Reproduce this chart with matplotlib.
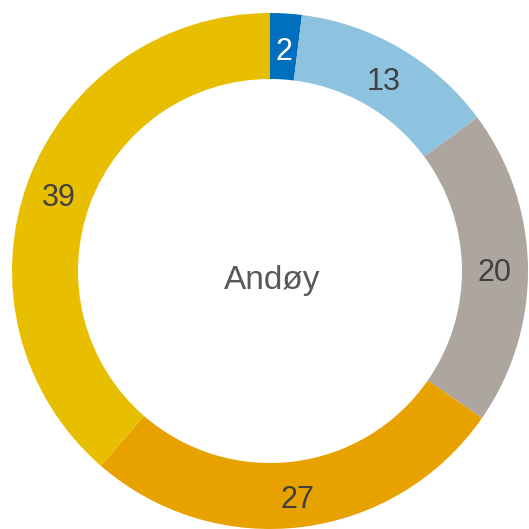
import matplotlib.pyplot as plt
import numpy as np

values = [2, 13, 20, 27, 39]
colors = ['#0070BE', '#8DC3DF', '#ADA69F', '#E8A200', '#E8BE00']
label_colors = ['white', '#404040', '#404040', '#404040', '#404040']
center_text = 'Andøy'

plt.rcParams['font.family'] = ['Liberation Sans', 'DejaVu Sans']

fig = plt.figure(figsize=(5.29, 5.29), dpi=100)
ax = fig.add_axes([0, 0, 1, 1])

cx, cy = 270, 258
outer = 258
inner = 192

ax.pie(values, colors=colors, startangle=90, counterclock=False,
       radius=outer, center=(cx, cy),
       wedgeprops=dict(width=outer - inner, linewidth=0))

# pie() sets its own limits, so pin the axes to pixel units afterwards
ax.set_xlim(0, 529)
ax.set_ylim(0, 529)
ax.set_aspect('equal')
ax.axis('off')

# value labels sit in the middle of each ring segment
total = sum(values)
cum = np.cumsum([0] + values[:-1])
r_lab = (outer + inner) / 2
for v, start, c in zip(values, cum, label_colors):
    ang = np.deg2rad((start + v / 2) / total * 360)
    x = cx + r_lab * np.sin(ang)
    y = cy + r_lab * np.cos(ang)
    ax.text(x, y - 2, str(v), ha='center', va='center_baseline',
            fontsize=22, color=c)

ax.text(cx + 2, 240, center_text, ha='center', va='baseline',
        fontsize=24, color='#595959')

fig.savefig('out.png', dpi=100)
